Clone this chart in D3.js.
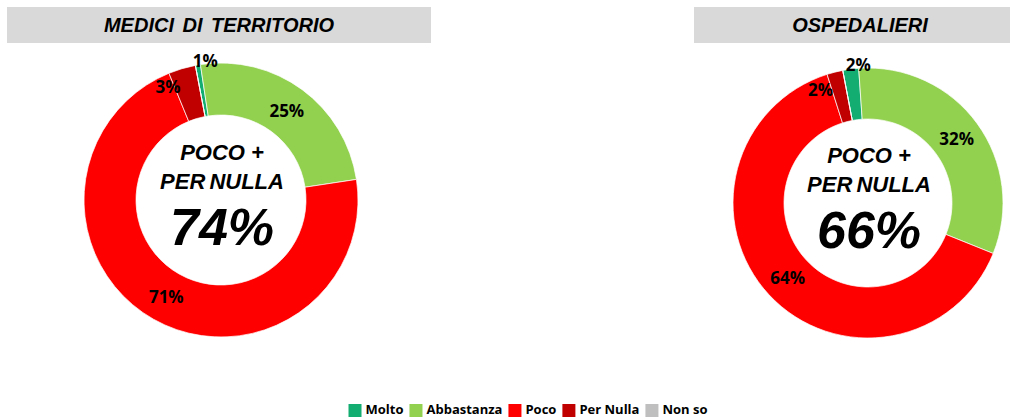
<!DOCTYPE html>
<html>
<head>
<meta charset="utf-8">
<script src="https://cdn.jsdelivr.net/npm/d3@7"></script>
<style>
  body { margin: 0; background: #fff; }
  svg { display: block; }
</style>
</head>
<body>
<div id="chart"></div>
<script>
var w = 1011;
var h = 418;

// categories and values (percent)
var categories = ["Molto", "Abbastanza", "Poco", "Per Nulla", "Non so"];
var colors = ["#14ad71", "#92d050", "#ff0000", "#c00000", "#bfbfbf"];
var titles = ["MEDICI DI TERRITORIO", "OSPEDALIERI"];
var medici = [0.6, 25.0, 71.2, 3.2, 0];
var ospedalieri = [1.9, 32.2, 64.0, 1.9, 0];
var centerLines = ["POCO +", "PER NULLA"];

var series = [medici, ospedalieri];

// layout of the two donuts
var layout = [
  { cx: 221, cy: 200, outer: 137, inner: 85, box: [7, 7, 424, 36], tx: 219 },
  { cx: 868, cy: 203, outer: 135, inner: 84, box: [694, 7, 316, 36], tx: 860 }
];

var rot = -10.8 * Math.PI / 180;

var svg = d3.select("#chart")
  .append("svg")
  .attr("width", w)
  .attr("height", h);

var pie = d3.pie()
  .sort(null)
  .startAngle(rot)
  .endAngle(rot + 2 * Math.PI);

// small slices get their label nudged, like Excel did
var nudge = {
  "Molto": { da: 3.3, dr: 3 },
  "Per Nulla": { da: -8.5, dr: -12 }
};

series.forEach(function(values, k) {
  var L = layout[k];

  // title box
  svg.append("rect")
    .attr("x", L.box[0])
    .attr("y", L.box[1])
    .attr("width", L.box[2])
    .attr("height", L.box[3])
    .attr("fill", "#d9d9d9");

  svg.append("text")
    .attr("x", L.tx)
    .attr("y", 32)
    .attr("text-anchor", "middle")
    .style("font-family", "'Liberation Sans', Arial, sans-serif")
    .style("font-weight", "bold")
    .style("font-style", "italic")
    .style("font-size", "20px")
    .style("word-spacing", "3px")
    .text(titles[k]);

  var arc = d3.arc()
    .innerRadius(L.inner)
    .outerRadius(L.outer);

  var g = svg.append("g")
    .attr("transform", "translate(" + L.cx + "," + L.cy + ")");

  var arcs = pie(values);

  g.selectAll("path")
    .data(arcs)
    .enter()
    .append("path")
    .attr("d", arc)
    .attr("fill", function(d, i) { return colors[i]; })
    .attr("stroke", "#fff")
    .attr("stroke-width", 0.7);

  // data labels
  g.selectAll("text.lbl")
    .data(arcs.filter(function(d) { return d.value > 0; }))
    .enter()
    .append("text")
    .attr("class", "lbl")
    .attr("transform", function(d) {
      var cat = categories[d.index];
      var mid = (d.startAngle + d.endAngle) / 2;
      var r = (L.inner + L.outer) / 2;
      if (nudge[cat]) {
        mid += nudge[cat].da * Math.PI / 180;
        r = L.outer + nudge[cat].dr;
      }
      return "translate(" + (Math.sin(mid) * r) + "," + (-Math.cos(mid) * r) + ")";
    })
    .attr("text-anchor", "middle")
    .attr("dy", "0.36em")
    .style("font-family", "'Open Sans', sans-serif")
    .style("font-weight", "bold")
    .style("font-size", "17px")
    .text(function(d) { return Math.round(d.value) + "%"; });

  // centre text
  var total = values[2] + values[3];
  var ct = g.append("g")
    .style("font-family", "'Liberation Sans', Arial, sans-serif")
    .style("font-weight", "bold")
    .style("font-style", "italic")
    .attr("text-anchor", "middle");

  ct.append("text")
    .attr("x", 1)
    .attr("y", -40)
    .style("font-size", "22px")
    .text(centerLines[0]);

  ct.append("text")
    .attr("x", 1)
    .attr("y", -11)
    .style("font-size", "22px")
    .style("word-spacing", "-2px")
    .text(centerLines[1]);

  ct.append("text")
    .attr("x", 1)
    .attr("y", 45)
    .style("font-size", "52px")
    .text(Math.round(total) + "%");
});

// legend
var legend = svg.append("g");
var lx = 0;
categories.forEach(function(c, i) {
  var item = legend.append("g").attr("transform", "translate(" + lx + ",0)");
  item.append("rect")
    .attr("x", 0)
    .attr("y", 404)
    .attr("width", 13)
    .attr("height", 13)
    .attr("fill", colors[i]);
  var t = item.append("text")
    .attr("x", 17)
    .attr("y", 414)
    .style("font-family", "'Open Sans', sans-serif")
    .style("font-weight", "bold")
    .style("font-size", "13px")
    .text(c);
  lx += 17 + t.node().getComputedTextLength() + 6;
});
legend.attr("transform", "translate(" + (531 - lx / 2) + ",0)");
</script>
</body>
</html>
